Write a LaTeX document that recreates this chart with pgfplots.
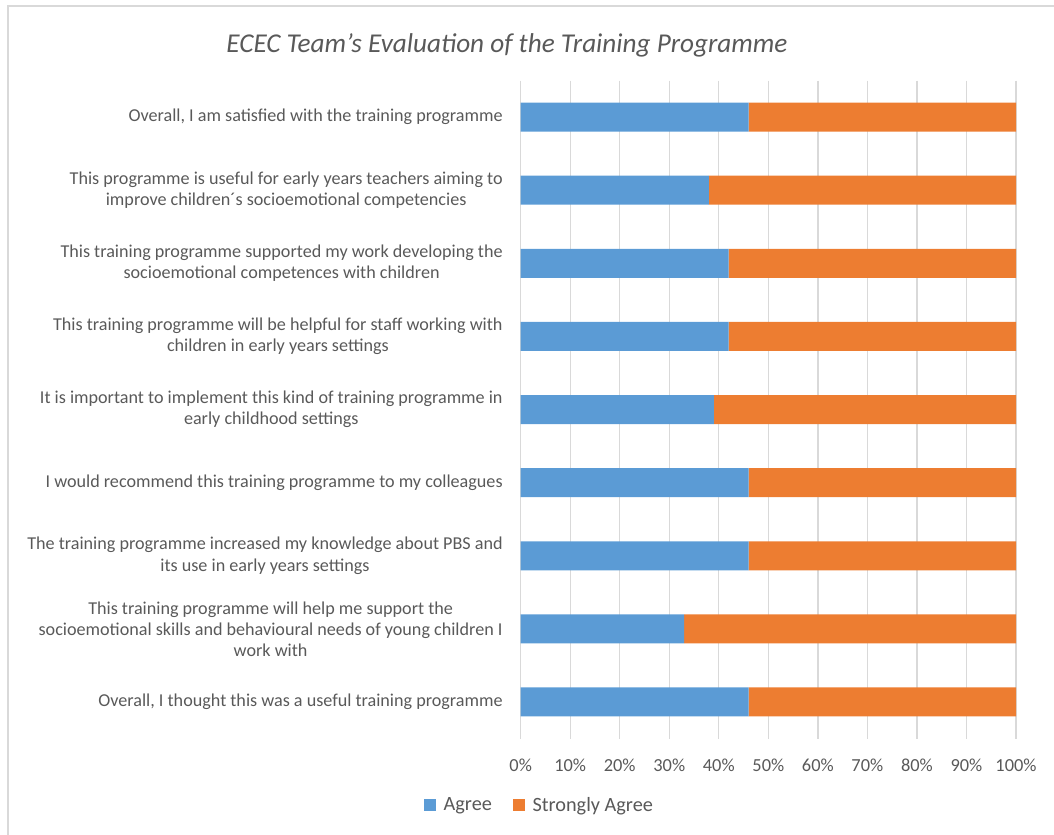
\documentclass[border=0pt]{standalone}
\usepackage{fontspec}
\setmainfont{Carlito}
\usepackage{pgfplots}
\pgfplotsset{compat=1.18}
\definecolor{agree}{HTML}{5B9BD5}
\definecolor{sagree}{HTML}{ED7D31}
\definecolor{txt}{HTML}{595959}
\definecolor{gridc}{HTML}{D9D9D9}
\begin{document}
\begin{tikzpicture}
\path[use as bounding box] (0pt,0pt) rectangle (790.5pt,-626.25pt);
\draw[gridc, line width=1.1pt] (6pt,-626.25pt) -- (6pt,-4.5pt) -- (790.5pt,-4.5pt);
\node[text=txt, font=\fontsize{20.4}{24}\selectfont\itshape] at (380.25pt,-33.75pt) {ECEC Team’s Evaluation of the Training Programme};
\begin{axis}[
  at={(390.5pt,-60.4pt)}, anchor=north west,
  scale only axis, width=371.5pt, height=493.5pt,
  xbar stacked, bar width=21.75pt,
  xmin=0, xmax=100, ymin=-0.5, ymax=8.5, y dir=reverse,
  xtick={0,10,...,100},
  xticklabels={0\%,10\%,20\%,30\%,40\%,50\%,60\%,70\%,80\%,90\%,100\%},
  ytick={0,...,8},
  yticklabels={
    {Overall, I am satisfied with the training programme},
    {This programme is useful for early years teachers aiming to\\improve children´s socioemotional competencies},
    {This training programme supported my work developing the\\socioemotional competences with children},
    {This training programme will be helpful for staff working with\\children in early years settings},
    {It is important to implement this kind of training programme in\\early childhood settings},
    {I would recommend this training programme to my colleagues},
    {The training programme increased my knowledge about PBS and\\its use in early years settings},
    {This training programme will help me support the\\socioemotional skills and behavioural needs of young children I\\work with},
    {Overall, I thought this was a useful training programme}
  },
  yticklabel style={align=center, text=txt, font=\fontsize{13.6}{15.75}\selectfont, anchor=east, xshift=-10pt},
  xticklabel style={text=txt, font=\fontsize{13.8}{15}\selectfont, anchor=center, yshift=-19.9pt},
  axis line style={draw=none},
  major tick length=0pt,
  xmajorgrids, major grid style={gridc, line width=1pt},
  legend style={at={(0.039,-0.101)}, anchor=center, legend columns=2, draw=none, fill=none,
    font=\fontsize{15.2}{17}\selectfont, text=txt,
    /tikz/every even column/.append style={column sep=14pt}},
  legend image code/.code={\fill[#1] (0pt,-4.5pt) rectangle (9pt,4.5pt); \path (12.5pt,0pt);},
]
\addplot[fill=agree, draw=none] coordinates {(46,0) (38,1) (42,2) (42,3) (39,4) (46,5) (46,6) (33,7) (46,8)};
\addplot[fill=sagree, draw=none] coordinates {(54,0) (62,1) (58,2) (58,3) (61,4) (54,5) (54,6) (67,7) (54,8)};
\legend{Agree, Strongly Agree}
\end{axis}
\end{tikzpicture}
\end{document}
